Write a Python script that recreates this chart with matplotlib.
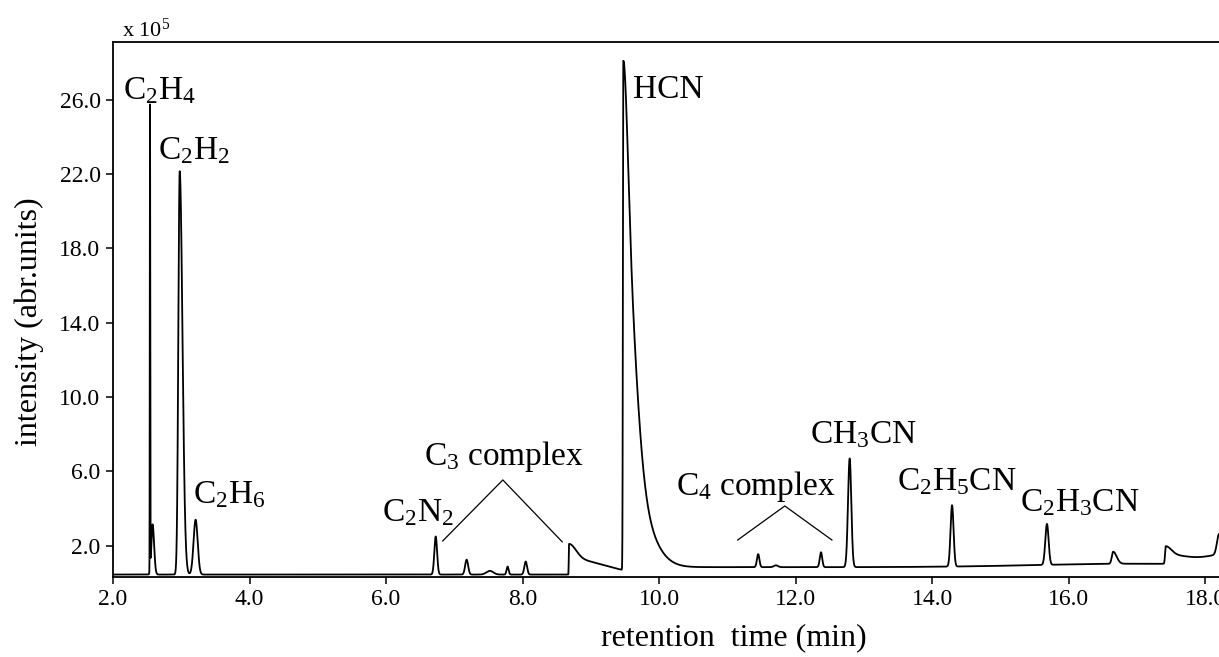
import numpy as np
import matplotlib.pyplot as plt

plt.rcParams['font.family'] = ['Liberation Serif', 'DejaVu Serif']
plt.rcParams['mathtext.fontset'] = 'custom'
plt.rcParams['mathtext.rm'] = 'Liberation Serif'
plt.rcParams['mathtext.it'] = 'Liberation Serif:italic'

# peak table
# retention time (min), height above baseline (x 10^5), left / right half widths (min)
# tailing peaks (8.68, HCN, 17.42) are split into a few components
peak_time = [2.542, 2.58, 2.977, 3.21, 6.727, 7.18, 7.52, 7.78, 8.045,
             8.68, 8.68,
             9.475, 9.475, 9.475, 9.475,
             11.45, 11.71, 12.37, 12.79, 14.29, 15.68,
             16.65, 17.0, 17.42, 17.42, 18.2, 18.3]
peak_height = [25.0, 2.7, 21.7, 2.95, 2.05, 0.8, 0.2, 0.43, 0.7,
               0.8, 0.85,
               8.0, 14.0, 5.0, 0.4,
               0.7, 0.1, 0.8, 5.85, 3.3, 2.2,
               0.65, 0.2, 0.45, 0.5, 1.1, 0.5]
peak_sig_left = [0.003, 0.018, 0.02, 0.03, 0.02, 0.022, 0.05, 0.015, 0.02,
                 0.004, 0.004,
                 0.006, 0.006, 0.006, 0.006,
                 0.018, 0.03, 0.018, 0.024, 0.022, 0.024,
                 0.02, 1.5, 0.01, 0.01, 0.03, 0.25]
peak_sig_right = [0.003, 0.022, 0.04, 0.03, 0.02, 0.022, 0.05, 0.015, 0.02,
                  0.1, 0.5,
                  0.06, 0.15, 0.3, 25.0,
                  0.018, 0.03, 0.018, 0.024, 0.022, 0.024,
                  0.05, 2.0, 0.08, 0.4, 0.1, 0.1]
baseline = 0.45

x_ticks = [2, 4, 6, 8, 10, 12, 14, 16, 18]
y_ticks = [2, 6, 10, 14, 18, 22, 26]

t = np.linspace(2.0, 18.2, 16201)
signal = np.full_like(t, baseline)
for t0, h, sl, sr in zip(peak_time, peak_height, peak_sig_left, peak_sig_right):
    s = np.where(t < t0, sl, sr)
    signal += h * np.exp(-(t - t0) ** 2 / (2 * s ** 2))

fig = plt.figure(figsize=(12.19, 6.57), dpi=100)
ax = fig.add_axes([0.0927, 0.1218, 0.9073, 0.8142])
ax.plot(t, signal, color='black', lw=1.3)

ax.set_xlim(2.0, 18.2)
ax.set_ylim(0.32, 29.1)
ax.set_xticks(x_ticks)
ax.set_yticks(y_ticks)
ax.set_xticklabels(['%.1f' % v for v in x_ticks])
ax.set_yticklabels(['%.1f' % v for v in y_ticks])
ax.tick_params(direction='out', length=5, width=1.1, labelsize=17, pad=4)
for side in ['left', 'bottom', 'top']:
    ax.spines[side].set_linewidth(1.3)
ax.spines['right'].set_visible(False)

ax.set_ylabel('intensity (abr.units)', fontsize=23)
ax.yaxis.set_label_coords(-0.062, 0.477)
ax.set_xlabel('retention  time (min)', fontsize=23)
ax.xaxis.set_label_coords(0.561, -0.086)
ax.text(0.008, 1.009, r'x 10$^5$', transform=ax.transAxes, fontsize=16, va='baseline')

# peak labels
lab = dict(fontsize=24, ha='left', va='baseline')
ax.text(2.146, 26.0, r'C$_2$H$_4$', **lab)
ax.text(2.66, 22.8, r'C$_2$H$_2$', **lab)
ax.text(3.17, 4.3, r'C$_2$H$_6$', **lab)
ax.text(5.94, 3.3, r'C$_2$N$_2$', **lab)
ax.text(6.56, 6.35, r'C$_3$ complex', **lab)
ax.text(9.62, 26.1, 'HCN', **lab)
ax.text(10.25, 4.74, r'C$_4$ complex', **lab)
ax.text(12.21, 7.52, r'CH$_3$CN', **lab)
ax.text(13.48, 5.0, r'C$_2$H$_5$CN', **lab)
ax.text(15.28, 3.88, r'C$_2$H$_3$CN', **lab)

# brackets grouping the complexes
ax.plot([6.83, 7.71, 8.58], [2.26, 5.54, 2.21], color='black', lw=0.9)
ax.plot([11.15, 11.84, 12.53], [2.31, 4.14, 2.31], color='black', lw=0.9)

fig.savefig('out.png', dpi=100)
